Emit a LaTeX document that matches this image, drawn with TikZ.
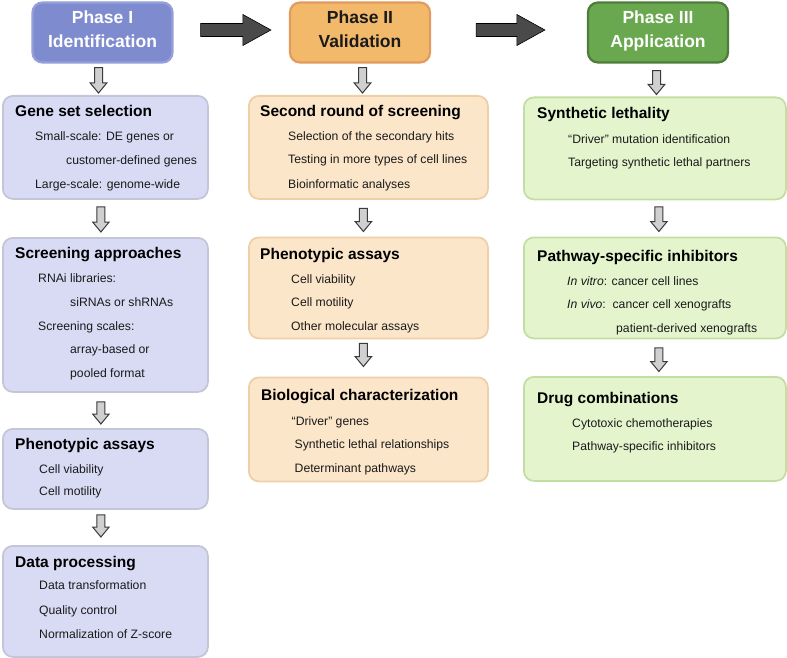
\documentclass[tikz,border=0pt]{standalone}
\usepackage{fontspec}
\setmainfont{Liberation Sans}
\usetikzlibrary{calc}
\definecolor{hdrA}{HTML}{7F8BCF}
\definecolor{hdrAline}{HTML}{95A0DA}
\definecolor{hdrB}{HTML}{F2B96B}
\definecolor{hdrBline}{HTML}{E39A5E}
\definecolor{hdrC}{HTML}{6AA84F}
\definecolor{hdrCline}{HTML}{4E7C3A}
\definecolor{fillA}{HTML}{D9DBF5}
\definecolor{lineA}{HTML}{C4C6D8}
\definecolor{fillB}{HTML}{FBE6CA}
\definecolor{lineB}{HTML}{EDCFA8}
\definecolor{fillC}{HTML}{E4F5CE}
\definecolor{lineC}{HTML}{C3DEA2}
\definecolor{arrdark}{HTML}{4A4A4A}
\definecolor{arrlight}{HTML}{D0D0D0}
\definecolor{arrline}{HTML}{3A3A3A}
\definecolor{txt}{HTML}{1A1A1A}
\begin{document}
\begin{tikzpicture}[x=1pt,y=-1pt,
  box/.style={draw, line width=1.8pt, rounded corners=10pt, anchor=north west, inner sep=0pt},
  boxA/.style={box, fill=fillA, draw=lineA, minimum width=205pt},
  boxB/.style={box, fill=fillB, draw=lineB, minimum width=239pt},
  boxC/.style={box, fill=fillC, draw=lineC, minimum width=262pt},
  hdr/.style={draw, line width=2.2pt, rounded corners=10pt, minimum width=140pt, minimum height=60pt, inner sep=0pt},
  hdrtext/.style={anchor=base, inner sep=0pt, font=\fontsize{17.5}{20}\selectfont\bfseries},
  title/.style={anchor=base west, inner sep=0pt, text=black, font=\fontsize{15.5}{18}\selectfont\bfseries},
  item/.style={anchor=base west, inner sep=0pt, text=txt, font=\fontsize{12.2}{14}\selectfont},
  bigarr/.style={draw=black, fill=arrdark, line width=0.6pt,
    to path={let \p1=(\tikztostart), \p2=(\tikztotarget) in
      (\x1,\y1+6.5pt) -- (\x2-28pt,\y1+6.5pt) -- (\x2-28pt,\y1+15.5pt) -- (\x2,\y1)
      -- (\x2-28pt,\y1-15.5pt) -- (\x2-28pt,\y1-6.5pt) -- (\x1,\y1-6.5pt) -- cycle}},
  smallarr/.style={draw=arrline, fill=arrlight, line width=1pt, line join=miter,
    to path={let \p1=(\tikztostart), \p2=(\tikztotarget) in
      (\x1-4pt,\y1) -- (\x1+4pt,\y1) -- (\x1+4pt,\y2+10pt) -- (\x1+8.3pt,\y2+10pt)
      -- (\x1,\y2) -- (\x1-8.3pt,\y2+10pt) -- (\x1-4pt,\y2+10pt) -- cycle}}
]
\useasboundingbox (0,0) rectangle (787,658);

% headers
\node[hdr, fill=hdrA, draw=hdrAline] (p1) at (102.5,32.5) {};
\node[hdr, fill=hdrB, draw=hdrBline] (p2) at (360,32.5) {};
\node[hdr, fill=hdrC, draw=hdrCline] (p3) at (658,32.5) {};
\node[hdrtext, text=white] (p1a) at (102.5,24) {Phase I};
\node[hdrtext, text=white] (p1b) at (102.5,48) {Identification};
\node[hdrtext, text=txt] (p2a) at (360,24) {Phase II};
\node[hdrtext, text=txt] (p2b) at (360,48) {Validation};
\node[hdrtext, text=white] (p3a) at (658,24) {Phase III};
\node[hdrtext, text=white] (p3b) at (658,48) {Application};

\draw[bigarr] ($(p1.east)+(27,-2.5)$) to ($(p2.west)+(-18,-2.5)$);
\draw[bigarr] ($(p2.east)+(45,-2.5)$) to ($(p3.west)+(-42,-2.5)$);

% column 1
\node[boxA, minimum height=103pt] (g1) at (2,95) {};
\node[title] (g1t) at (15,117) {Gene set selection};
\node[item] (g1a) at (35,141) {Small-scale: DE genes or};
\node[item] (g1b) at (66,164.5) {customer-defined genes};
\node[item] (g1c) at (35,188) {Large-scale: genome-wide};

\node[boxA, minimum height=154pt] (g2) at (2,237) {};
\node[title] (g2t) at (15,258.5) {Screening approaches};
\node[item] (g2a) at (38,282) {RNAi libraries:};
\node[item] (g2b) at (70,306) {siRNAs or shRNAs};
\node[item] (g2c) at (38,330) {Screening scales:};
\node[item] (g2d) at (70,353.5) {array-based or};
\node[item] (g2e) at (70,377) {pooled format};

\node[boxA, minimum height=80pt] (g3) at (2,428) {};
\node[title] (g3t) at (15,449) {Phenotypic assays};
\node[item] (g3a) at (39,473) {Cell viability};
\node[item] (g3b) at (39,495.5) {Cell motility};

\node[boxA, minimum height=111pt] (g4) at (2,545) {};
\node[title] (g4t) at (15,567) {Data processing};
\node[item] (g4a) at (39,589.5) {Data transformation};
\node[item] (g4b) at (39,614) {Quality control};
\node[item] (g4c) at (39,638) {Normalization of Z-score};

% column 2
\node[boxB, minimum height=103pt] (v1) at (248,95) {};
\node[title] (v1t) at (260,117) {Second round of screening};
\node[item] (v1a) at (288,140.5) {Selection of the secondary hits};
\node[item] (v1b) at (288,164) {Testing in more types of cell lines};
\node[item] (v1c) at (288,188) {Bioinformatic analyses};

\node[boxB, minimum height=101pt] (v2) at (248,236.5) {};
\node[title] (v2t) at (260,259) {Phenotypic assays};
\node[item] (v2a) at (291,283) {Cell viability};
\node[item] (v2b) at (291,306.5) {Cell motility};
\node[item] (v2c) at (291,330) {Other molecular assays};

\node[boxB, minimum height=104pt] (v3) at (248,376.5) {};
\node[title] (v3t) at (261,400.5) {Biological characterization};
\node[item] (v3a) at (291.5,425.5) {“Driver” genes};
\node[item] (v3b) at (294.5,448) {Synthetic lethal relationships};
\node[item] (v3c) at (294.5,472) {Determinant pathways};

% column 3
\node[boxC, minimum height=102pt] (a1) at (523,96.5) {};
\node[title] (a1t) at (537,119) {Synthetic lethality};
\node[item] (a1a) at (568,143) {“Driver” mutation identification};
\node[item] (a1b) at (568,167) {Targeting synthetic lethal partners};

\node[boxC, minimum height=101pt] (a2) at (523,236.5) {};
\node[title] (a2t) at (537,261) {Pathway-specific inhibitors};
\node[item] (a2a) at (567,285.5) {\textit{In vitro}: cancer cell lines};
\node[item] (a2b) at (567,308.5) {\textit{In vivo}:\ \ cancer cell xenografts};
\node[item] (a2c) at (616,332) {patient-derived xenografts};

\node[boxC, minimum height=104pt] (a3) at (523,376) {};
\node[title] (a3t) at (537,403.5) {Drug combinations};
\node[item] (a3a) at (572,427) {Cytotoxic chemotherapies};
\node[item] (a3b) at (572,450.5) {Pathway-specific inhibitors};

% small arrows
\draw[smallarr] ($(p1.south)+(-4,4)$) to ($(g1.north)+(-6,-2)$);
\draw[smallarr] ($(g1.south)+(-4.5,7)$) to ($(g2.north)+(-4.5,-5)$);
\draw[smallarr] ($(g2.south)+(-4.5,9)$) to ($(g3.north)+(-4.5,-4)$);
\draw[smallarr] ($(g3.south)+(-4.5,5)$) to ($(g4.north)+(-4.5,-8)$);

\draw[smallarr] ($(p2.south)+(2.5,4)$) to ($(v1.north)+(-5,-2)$);
\draw[smallarr] ($(v1.south)+(-5,8.5)$) to ($(v2.north)+(-5,-5)$);
\draw[smallarr] ($(v2.south)+(-5,4)$) to ($(v3.north)+(-5,-10)$);

\draw[smallarr] ($(p3.south)+(-1.5,7)$) to ($(a1.north)+(3,-2)$);
\draw[smallarr] ($(a1.south)+(4,6.5)$) to ($(a2.north)+(4,-5)$);
\draw[smallarr] ($(a2.south)+(4,8.5)$) to ($(a3.north)+(4,-4.5)$);
\end{tikzpicture}
\end{document}
